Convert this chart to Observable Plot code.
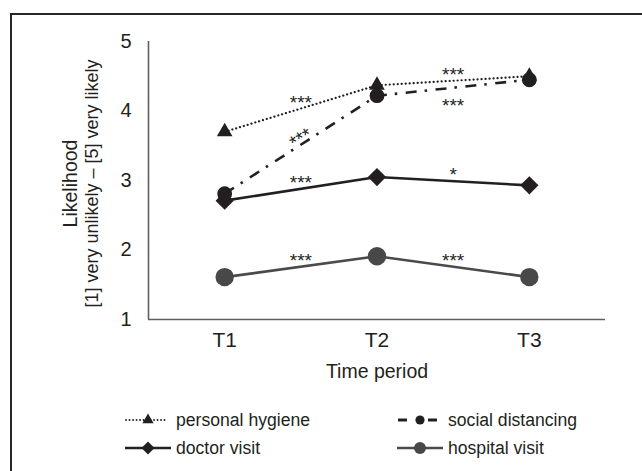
<!DOCTYPE html>
<html>
<head>
<meta charset="utf-8">
<script src="https://cdn.jsdelivr.net/npm/d3@7"></script>
<script src="https://cdn.jsdelivr.net/npm/@observablehq/plot@0.6"></script>
<style>
  html, body { margin: 0; padding: 0; background: #fff; width: 642px; height: 471px; overflow: hidden; }
  body { position: relative; font-family: "Liberation Sans", Arial, sans-serif; color: #231f20; }
  #chart { position: absolute; left: 0; top: 0; }
  #frame { position: absolute; left: 10px; top: 13px; width: 700px; height: 520px; border: 2px solid #262626; box-sizing: border-box; pointer-events: none; }
  #legend { position: absolute; left: 125px; top: 406px; display: grid; grid-template-columns: 272px 220px; grid-auto-rows: 28px; font-size: 17.6px; }
  .item { display: flex; align-items: center; height: 28px; white-space: nowrap; }
  .item svg { display: block; margin-right: 5px; }
</style>
</head>
<body>
<div id="chart"></div>
<div id="legend"></div>
<div id="frame"></div>
<script>
// ---- data ----
const periods = ["T1", "T2", "T3"];
const seriesNames = ["personal hygiene", "social distancing", "doctor visit", "hospital visit"];
const personalHygiene = [3.70, 4.37, 4.50];
const socialDistancing = [2.81, 4.22, 4.45];
const doctorVisit = [2.71, 3.05, 2.93];
const hospitalVisit = [1.61, 1.91, 1.61];
const yTicks = [1, 2, 3, 4, 5];
// significance of change between consecutive periods (T1→T2, T2→T3)
const sigPersonalHygiene = ["***", "***"];
const sigSocialDistancing = ["***", "***"];
const sigDoctorVisit = ["***", "*"];
const sigHospitalVisit = ["***", "***"];
const xTitle = "Time period";
const yTitle = ["Likelihood", "[1] very unlikely \u2013 [5] very likely"];

// ---- derived tables ----
const valuesBySeries = [personalHygiene, socialDistancing, doctorVisit, hospitalVisit];
const sigBySeries = [sigPersonalHygiene, sigSocialDistancing, sigDoctorVisit, sigHospitalVisit];
const rows = [];
seriesNames.forEach((s, k) => valuesBySeries[k].forEach((v, i) => rows.push({series: s, t: i + 1, value: v})));
const sigs = [];
seriesNames.forEach((s, k) => sigBySeries[k].forEach((lab, i) => sigs.push({
  series: s, seg: i, t: i + 1.5,
  value: (valuesBySeries[k][i] + valuesBySeries[k][i + 1]) / 2, label: lab
})));

// ---- styles ----
const ink = "#231f20";
const style = {
  "personal hygiene": {stroke: ink, width: 2.2, dash: "0.1 3.9", cap: "round", symbol: "triangle", r: 5.8, fill: ink},
  "social distancing": {stroke: ink, width: 2.6, dash: "11 8 2.5 8.5", cap: "butt", symbol: "circle", r: 7.4, fill: ink},
  "doctor visit": {stroke: ink, width: 2.6, dash: null, cap: "butt", symbol: "diamond2", r: 8.2, fill: ink},
  "hospital visit": {stroke: "#4a4a4c", width: 2.6, dash: null, cap: "butt", symbol: "circle", r: 9.2, fill: "#48484a"}
};
// social distancing T1→T2 label follows its steep line; T2→T3 label sits below
const isBelow = d => d.series === "social distancing" && d.seg === 1;
const rot = d => (d.series === "social distancing" && d.seg === 0) ? -31 : 0;

const drawOrder = ["hospital visit", "doctor visit", "social distancing", "personal hygiene"];
const lineMarks = drawOrder.map(s => Plot.line(rows.filter(d => d.series === s), {
  x: "t", y: "value", stroke: style[s].stroke, strokeWidth: style[s].width,
  strokeDasharray: style[s].dash, strokeLinecap: style[s].cap
}));
const dotOrder = ["hospital visit", "doctor visit", "personal hygiene", "social distancing"];
const dotMarks = dotOrder.map(s => Plot.dot(rows.filter(d => d.series === s), {
  x: "t", y: "value", symbol: () => style[s].symbol, r: style[s].r, fill: style[s].fill, stroke: "none"
}));

const font = "'Liberation Sans', Arial, Helvetica, sans-serif";
const chart = Plot.plot({
  width: 642, height: 395,
  marginLeft: 148, marginRight: 37, marginTop: 41, marginBottom: 76,
  style: {fontFamily: font, color: ink, background: "transparent", overflow: "visible"},
  x: {type: "linear", domain: [0.5, 3.5]},
  y: {type: "linear", domain: [1, 5]},
  symbol: {type: "identity"},
  marks: [
    Plot.axisY({ticks: yTicks, tickSize: 0, tickPadding: 17, fontSize: 20, label: null, tickFormat: d => String(d)}),
    Plot.axisX({ticks: [1, 2, 3], tickSize: 0, tickPadding: 13, fontSize: 21, label: null, tickFormat: d => periods[d - 1]}),
    Plot.ruleX([0.5], {y1: 1, y2: 5, stroke: "#5f5f5f", strokeWidth: 1.6}),
    Plot.ruleY([1], {x1: 0.5, x2: 3.5, stroke: "#5f5f5f", strokeWidth: 1.6}),
    ...lineMarks,
    ...dotMarks,
    Plot.text(sigs.filter(d => !isBelow(d)), {x: "t", y: "value", text: "label", rotate: rot, dy: -6, fontSize: 19, fill: ink}),
    Plot.text(sigs.filter(isBelow), {x: "t", y: "value", text: "label", dy: 18, fontSize: 19, fill: ink}),
    Plot.text([xTitle], {frameAnchor: "bottom", lineAnchor: "middle", dy: 52, fontSize: 19.5, fill: ink}),
    Plot.text([yTitle[0]], {frameAnchor: "left", textAnchor: "middle", rotate: -90, dx: -78, dy: 3, fontSize: 19.5, fill: ink}),
    Plot.text([yTitle[1]], {frameAnchor: "left", textAnchor: "middle", rotate: -90, dx: -56, dy: 3, fontSize: 18, fill: ink})
  ]
});
document.getElementById("chart").appendChild(chart);

// ---- legend ----
const legendOrder = ["personal hygiene", "social distancing", "doctor visit", "hospital visit"];
const legend = d3.select("#legend");
legendOrder.forEach(s => {
  const item = legend.append("div").attr("class", "item");
  const svg = item.append("svg").attr("width", 46).attr("height", 20);
  const st = style[s];
  if (s === "personal hygiene") {
    svg.append("line").attr("x1", 1).attr("x2", 43).attr("y1", 10).attr("y2", 10)
      .attr("stroke", ink).attr("stroke-width", 1.8).attr("stroke-dasharray", "0.1 3.4").attr("stroke-linecap", "round");
    svg.append("path").attr("transform", "translate(23,10)").attr("fill", ink)
      .attr("d", d3.symbol(d3.symbolTriangle, Math.PI * 4.2 * 4.2)());
  } else if (s === "social distancing") {
    svg.append("line").attr("x1", 1).attr("x2", 10).attr("y1", 10).attr("y2", 10).attr("stroke", ink).attr("stroke-width", 3);
    svg.append("line").attr("x1", 31).attr("x2", 40).attr("y1", 10).attr("y2", 10).attr("stroke", ink).attr("stroke-width", 3);
    svg.append("circle").attr("cx", 23).attr("cy", 10).attr("r", 4.6).attr("fill", ink);
  } else if (s === "doctor visit") {
    svg.append("line").attr("x1", 0).attr("x2", 46).attr("y1", 10).attr("y2", 10).attr("stroke", ink).attr("stroke-width", 2.6);
    svg.append("path").attr("transform", "translate(23,10)").attr("fill", ink)
      .attr("d", d3.symbol(d3.symbolDiamond2, 108)());
  } else {
    svg.append("line").attr("x1", 0).attr("x2", 46).attr("y1", 10).attr("y2", 10).attr("stroke", st.stroke).attr("stroke-width", 2.6);
    svg.append("circle").attr("cx", 23).attr("cy", 10).attr("r", 6).attr("fill", st.fill);
  }
  item.append("span").text(s);
});
</script>
</body>
</html>
